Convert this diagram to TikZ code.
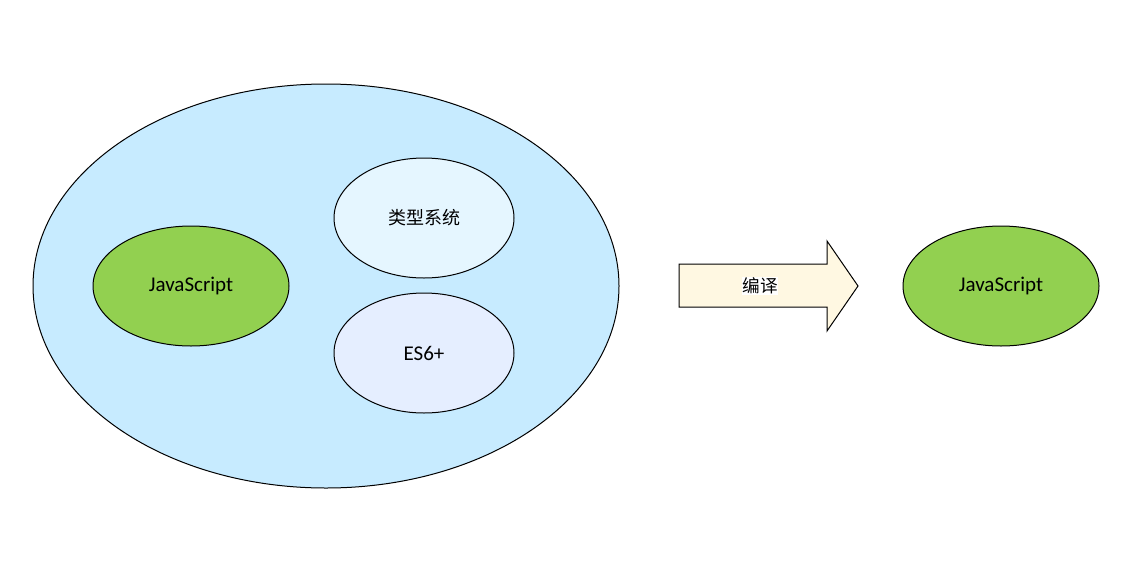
\documentclass[tikz,border=0pt]{standalone}
\usepackage{fontspec}
\setmainfont{Carlito}
\newfontfamily\cjk{Noto Sans CJK SC}
\usetikzlibrary{shapes.geometric}
\definecolor{outerblue}{HTML}{C7EBFF}
\definecolor{typeblue}{HTML}{E5F6FF}
\definecolor{esblue}{HTML}{E5EEFF}
\definecolor{jsgreen}{HTML}{92D050}
\definecolor{cream}{HTML}{FFF8E2}

\begin{document}
\begin{tikzpicture}[x=0.75pt,y=-0.75pt]
        \tikzstyle{every node}=[ellipse, draw, line width=0.75pt, inner sep=0pt, font=\fontsize{15.75}{18}\selectfont]
        \tikzstyle{jsnode}=[fill=jsgreen, minimum width=147pt, minimum height=90pt]
        \tikzstyle{innernode}=[minimum width=135pt, minimum height=90pt]

        \useasboundingbox (0,0) rectangle (1141,571);

        \node   (ts)     [fill=outerblue, minimum width=439.5pt, minimum height=303pt] at (326,286) {};
        \node   (js)     [jsnode] at (191,286) {JavaScript};
        \node   (types)  [innernode, fill=typeblue] at (424,218) {\cjk\fontsize{13.5}{16}\selectfont 类型系统};
        \node   (es)     [innernode, fill=esblue] at (424,353) {ES6+};
        \node   (out)    [jsnode] at (1001,286) {JavaScript};

        \draw[fill=cream, line width=0.75pt, line join=miter]
            (679,264) -- (827,264) -- (827,241) -- (858,286) -- (827,331) -- (827,307) -- (679,307) -- cycle;
        \node   (compile) [draw=none, shape=rectangle, fill=white, inner sep=0.5pt] at (760,286) {\cjk\fontsize{13.2}{16}\selectfont 编译};

    \end{tikzpicture}
\end{document}
